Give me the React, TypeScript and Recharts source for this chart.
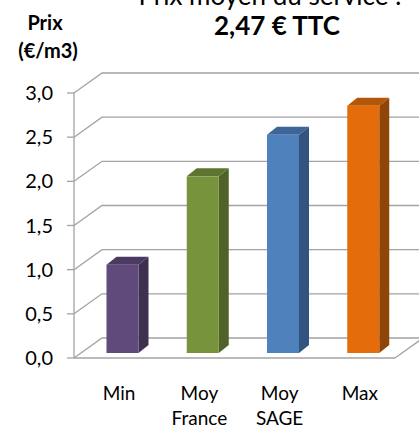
import React from 'react';
import { BarChart, Bar, XAxis, YAxis, CartesianGrid } from 'recharts';

const categories = ['Min', 'Moy France', 'Moy SAGE', 'Max'];
const categoryLines = [['Min'], ['Moy', 'France'], ['Moy', 'SAGE'], ['Max']];
const prices = [1.0, 2.0, 2.47, 2.8];
const yTicks = [0, 0.5, 1, 1.5, 2, 2.5, 3];
const frontColors = ['#5f4a7b', '#77933c', '#4f81bd', '#e46c0a'];
const sideColors = ['#3e3150', '#4f6228', '#335480', '#8f4408'];
const topColors = ['#4b3b62', '#5e7530', '#3d6597', '#b45608'];
const titleLine1 = 'Prix moyen du service :';
const titleLine2 = '2,47 € TTC';
const unitLine1 = 'Prix';
const unitLine2 = '(€/m3)';

const data = categories.map((c, i) => ({ name: c, value: prices[i], idx: i }));

const FONT = 'Lato, "Open Sans", sans-serif';
const GRID = '#a3a3a3';
const WALL_DX = 28;
const WALL_DY = 20;
const BAR_DX = 10;
const BAR_DY = 8;
const BAR_SHIFT_X = 8.5;
const BAR_SHIFT_Y = -5;

function Bar3D(props: any) {
  const { x, y, width, height, payload, index } = props;
  const i = payload && payload.idx != null ? payload.idx : index;
  const fx = x + BAR_SHIFT_X;
  const fy = y + BAR_SHIFT_Y;
  const w = width;
  const h = height;
  return (
    <g>
      <polygon
        points={`${fx + w},${fy} ${fx + w + BAR_DX},${fy - BAR_DY} ${fx + w + BAR_DX},${fy + h - BAR_DY} ${fx + w},${fy + h}`}
        fill={sideColors[i]}
      />
      <polygon
        points={`${fx},${fy} ${fx + BAR_DX},${fy - BAR_DY} ${fx + w + BAR_DX},${fy - BAR_DY} ${fx + w},${fy}`}
        fill={topColors[i]}
      />
      <rect x={fx} y={fy} width={w} height={h} fill={frontColors[i]} />
    </g>
  );
}

const gridLine = (props: any) => {
  const { x1, y1, x2, index } = props;
  const bottom =
    props.y != null && props.height != null ? Math.abs(y1 - (props.y + props.height)) < 1 : index === 0;
  return (
    <g key={`g-${index}-${y1}`}>
      <polyline
        points={`${x1},${y1} ${x1 + WALL_DX},${y1 - WALL_DY} ${x2 + WALL_DX + 20},${y1 - WALL_DY}`}
        fill="none"
        stroke={GRID}
        strokeWidth={1.3}
      />
      {bottom && (
        <line x1={x2} y1={y1} x2={x2 + WALL_DX} y2={y1 - WALL_DY} stroke={GRID} strokeWidth={1.3} />
      )}
    </g>
  );
};

const fmt = (v: number) => v.toFixed(1).replace('.', ',');

const XTick = (props: any) => {
  const { x, y, index } = props;
  const lines = categoryLines[index] || [];
  return (
    <text x={x + 5} y={y} textAnchor="middle" fontFamily={FONT} fontSize={19} fill="#000">
      {lines.map((l, k) => (
        <tspan key={k} x={x + 5} dy={k === 0 ? 42 : 25}>
          {l}
        </tspan>
      ))}
    </text>
  );
};

export default function App() {
  return (
    <div style={{ position: 'absolute', left: 0, top: 0, width: 419, height: 428, background: '#fff', overflow: 'hidden' }}>
      <BarChart
        width={419}
        height={428}
        data={data}
        margin={{ top: 93, right: 24, bottom: 0, left: 0 }}
        barSize={32}
      >
        <CartesianGrid vertical={false} horizontal={gridLine} />
        <YAxis
          width={74}
          domain={[0, 3]}
          ticks={yTicks}
          tickFormatter={fmt}
          tickSize={7}
          tickMargin={14}
          axisLine={{ stroke: GRID, strokeWidth: 1.3 }}
          tickLine={{ stroke: GRID, strokeWidth: 1.3 }}
          tick={{ fontFamily: FONT, fontSize: 20, fill: '#000' }}
          interval={0}
        />
        <XAxis
          dataKey="name"
          height={70}
          tickLine={false}
          tickSize={0}
          tickMargin={0}
          axisLine={{ stroke: GRID, strokeWidth: 1.3 }}
          tick={<XTick />}
          interval={0}
        />
        <Bar dataKey="value" shape={<Bar3D />} isAnimationActive={false} />
      </BarChart>
      <div style={{ position: 'absolute', left: 0, top: 0, width: 419, height: 428, pointerEvents: 'none', fontFamily: FONT, color: '#000' }}>
        <div style={{ position: 'absolute', left: 110, width: 320, top: -22, textAlign: 'center', fontSize: 26, lineHeight: '34px', whiteSpace: 'nowrap' }}>
          {titleLine1}
        </div>
        <div style={{ position: 'absolute', left: 117, width: 320, top: 8, textAlign: 'center', fontSize: 26, fontWeight: 700, lineHeight: '34px', whiteSpace: 'nowrap' }}>
          {titleLine2}
        </div>
        <div style={{ position: 'absolute', left: 0, width: 90, top: 8, textAlign: 'center', fontSize: 20, fontWeight: 700, lineHeight: '28px', whiteSpace: 'nowrap' }}>
          {unitLine1}
        </div>
        <div style={{ position: 'absolute', left: 3, width: 90, top: 36, textAlign: 'center', fontSize: 20, fontWeight: 700, lineHeight: '28px', whiteSpace: 'nowrap' }}>
          {unitLine2}
        </div>
      </div>
    </div>
  );
}
